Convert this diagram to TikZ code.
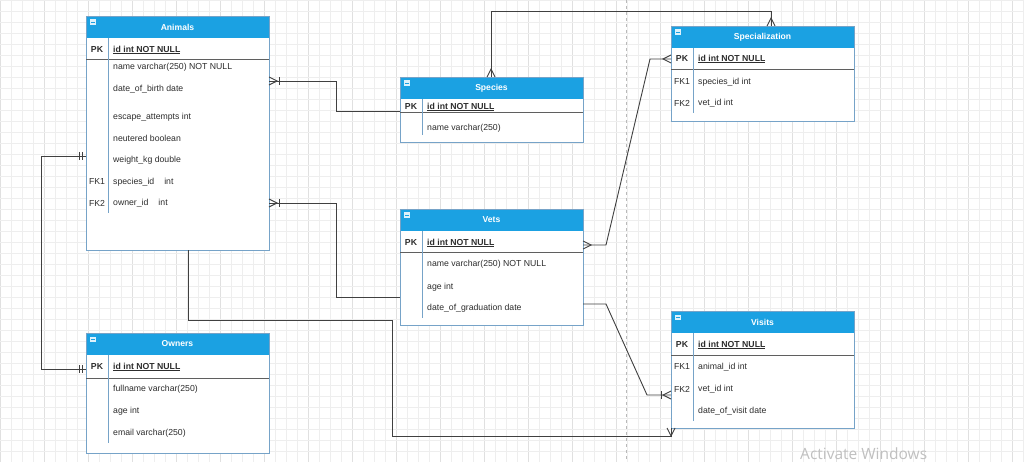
\documentclass[tikz,border=0pt]{standalone}
\usepackage{fontspec}
\setmainfont{Liberation Sans}
\newfontfamily\winfont{Open Sans}
\usetikzlibrary{calc}

\definecolor{hdrblue}{RGB}{27,161,226}
\definecolor{boxedge}{RGB}{118,163,200}
\definecolor{wire}{RGB}{64,64,64}
\definecolor{txt}{RGB}{45,45,45}
\definecolor{gridlo}{RGB}{238,238,238}
\definecolor{gridhi}{RGB}{224,224,224}
\definecolor{pkrule}{RGB}{95,95,95}
\definecolor{watermark}{RGB}{192,192,192}

\tikzset{
  tablebox/.style={draw=boxedge, line width=0.9pt, inner sep=0pt, outer sep=0pt, anchor=north west},
  ttl/.style={text=white, font=\fontsize{8.6}{10}\selectfont\bfseries, inner sep=0pt},
  fld/.style={text=txt, font=\fontsize{8.7}{10}\selectfont, anchor=west, inner sep=0pt},
  keyfld/.style={fld, font=\fontsize{8.7}{10}\selectfont\bfseries},
  keytag/.style={text=txt, font=\fontsize{8.7}{10}\selectfont, inner sep=0pt},
  pktag/.style={keytag, font=\fontsize{8.7}{10}\selectfont\bfseries},
  wireline/.style={draw=wire, line width=0.9pt},
  endsym/.style={draw=wire, line width=0.9pt},
}

% entity table: name, left, top, height, title, offset of the key rule, bottom of key column line
\newcommand\ertable[7]{%
  \fill[white] (#2,#3) rectangle ++(183,#4);
  \fill[hdrblue] (#2,#3) rectangle ++(183,22);
  \node[tablebox, minimum width=183pt, minimum height=#4pt] (#1) at (#2,#3) {};
  \node[ttl] (#1-title) at ($(#1.north)+(0,11)$) {#5};
  \fill[white!85!hdrblue] ($(#1.north west)+(4,3.5)$) rectangle ++(5.5,5.5);
  \draw[hdrblue, line width=0.8pt] ($(#1.north west)+(5,6.25)$) -- ++(3.5,0);
  \draw[pkrule, line width=1pt] ($(#1.north west)+(0,#6)$) -- ++(183,0);
  \draw[boxedge, line width=0.8pt] ($(#1.north west)+(22,22)$) -- (#2+22,#7);
}

% crow's foot at point #1, pointing outward along (#2,#3)
\newcommand\crowfoot[3]{%
  \draw[endsym] ($#1+({0-(#3)*4},{(#2)*4})$) -- ($#1+({(#2)*8},{(#3)*8})$) -- ($#1+({(#3)*4},{0-(#2)*4})$);
}
% bar across the line at point #1, direction (#2,#3), distance #4
\newcommand\crowbar[4]{%
  \draw[endsym] ($#1+({(#2)*(#4)-(#3)*4},{(#3)*(#4)+(#2)*4})$) -- ($#1+({(#2)*(#4)+(#3)*4},{(#3)*(#4)-(#2)*4})$);
}

\begin{document}
\begin{tikzpicture}[x=1pt,y=-1pt]
\useasboundingbox (0,0) rectangle (1024,462);
\fill[white] (0,0) rectangle (1024,462);

% background grid
\foreach \i in {0,...,93} {
  \pgfmathsetmacro\gx{\i*11}
  \ifnum\numexpr\i-4*(\i/4)\relax=0
    \draw[gridhi, line width=0.5pt] (\gx,0) -- (\gx,462);
  \else
    \draw[gridlo, line width=0.5pt] (\gx,0) -- (\gx,462);
  \fi
}
\foreach \j in {0,...,42} {
  \pgfmathsetmacro\gy{\j*11}
  \draw[gridlo, line width=0.5pt] (0,\gy) -- (1024,\gy);
}
% page break
\draw[gray!55, line width=0.6pt, dash pattern=on 3pt off 3pt] (626,0) -- (626,462);

% tables
\ertable{animals}{86}{16}{234}{Animals}{44}{213}
\ertable{species}{400}{77}{65}{Species}{36}{135}
\ertable{vets}{400}{209}{116}{Vets}{43}{318}
\ertable{specialization}{671}{26}{95}{Specialization}{44}{113}
\ertable{visits}{671}{311}{117}{Visits}{44}{421}
\ertable{owners}{86}{333}{120}{Owners}{45}{443}

% Animals fields
\node[pktag] (an-pk) at (97,50) {PK};
\node[keyfld] (an-id) at (113,50) {\underline{id int NOT NULL}};
\node[fld] (an-name) at (113,67) {name varchar(250) NOT NULL};
\node[fld] (an-dob) at (113,89) {date\_of\_birth date};
\node[fld] (an-esc) at (113,117) {escape\_attempts int};
\node[fld] (an-neu) at (113,138) {neutered boolean};
\node[fld] (an-wt) at (113,160) {weight\_kg double};
\node[keytag] (an-fk1) at (97,182) {FK1};
\node[fld] (an-sp) at (113,182) {species\_id\hspace{10pt}int};
\node[keytag] (an-fk2) at (97,203) {FK2};
\node[fld] (an-ow) at (113,203) {owner\_id\hspace{10pt}int};

% Species fields
\node[pktag] (sp-pk) at (411,107) {PK};
\node[keyfld] (sp-id) at (427,107) {\underline{id int NOT NULL}};
\node[fld] (sp-name) at (427,128) {name varchar(250)};

% Vets fields
\node[pktag] (ve-pk) at (411,243) {PK};
\node[keyfld] (ve-id) at (427,243) {\underline{id int NOT NULL}};
\node[fld] (ve-name) at (427,264) {name varchar(250) NOT NULL};
\node[fld] (ve-age) at (427,287) {age int};
\node[fld] (ve-grad) at (427,308) {date\_of\_graduation date};

% Specialization fields
\node[pktag] (sz-pk) at (682,59) {PK};
\node[keyfld] (sz-id) at (698,59) {\underline{id int NOT NULL}};
\node[keytag] (sz-fk1) at (682,82) {FK1};
\node[fld] (sz-sp) at (698,82) {species\_id int};
\node[keytag] (sz-fk2) at (682,103) {FK2};
\node[fld] (sz-ve) at (698,103) {vet\_id int};

% Visits fields
\node[pktag] (vi-pk) at (682,345) {PK};
\node[keyfld] (vi-id) at (698,345) {\underline{id int NOT NULL}};
\node[keytag] (vi-fk1) at (682,367) {FK1};
\node[fld] (vi-an) at (698,367) {animal\_id int};
\node[keytag] (vi-fk2) at (682,389) {FK2};
\node[fld] (vi-ve) at (698,389) {vet\_id int};
\node[fld] (vi-date) at (698,411) {date\_of\_visit date};

% Owners fields
\node[pktag] (ow-pk) at (97,367) {PK};
\node[keyfld] (ow-id) at (113,367) {\underline{id int NOT NULL}};
\node[fld] (ow-name) at (113,389) {fullname varchar(250)};
\node[fld] (ow-age) at (113,411) {age int};
\node[fld] (ow-mail) at (113,433) {email varchar(250)};

% connector end points on the table edges
\coordinate (a1) at ($(animals.north east)+(0,65)$);
\coordinate (a2) at ($(animals.north east)+(0,187)$);
\coordinate (a3) at ($(animals.north west)+(0,140)$);
\coordinate (a4) at ($(animals.south west)+(102,0)$);
\coordinate (s1) at ($(species.north west)+(0,34)$);
\coordinate (s2) at ($(species.north west)+(91,0)$);
\coordinate (v1) at ($(vets.north west)+(0,88)$);
\coordinate (v2) at ($(vets.north east)+(0,36)$);
\coordinate (v3) at ($(vets.north east)+(0,95)$);
\coordinate (z1) at ($(specialization.north west)+(0,33)$);
\coordinate (z2) at ($(specialization.north west)+(100,0)$);
\coordinate (o1) at ($(owners.north west)+(0,36)$);
\coordinate (t1) at ($(visits.north west)+(0,84)$);
\coordinate (t2) at (visits.south west);

% connectors
\draw[wireline] (a1) -- ++(67,0) |- (s1);
\draw[wireline] (a2) -- ++(67,0) |- (v1);
\draw[wireline] (a3) -- ++(-45,0) |- (o1);
\draw[wireline] (a4) -- ++(0,70) -| (392,436) -| (t2);
\draw[wireline] (v2) -- ++(23,0) -- ($(z1)+(-21,0)$) -- (z1);
\draw[wireline] (s2) -- ++(0,-66) -| (z2);
\draw[wireline] (v3) -- ++(23,0) -- ($(t1)+(-24,0)$) -- (t1);

% relationship end symbols
\crowfoot{(a1)}{1}{0} \crowbar{(a1)}{1}{0}{10}
\crowfoot{(a2)}{1}{0} \crowbar{(a2)}{1}{0}{10}
\crowbar{(a3)}{-1}{0}{4} \crowbar{(a3)}{-1}{0}{7}
\crowbar{(o1)}{-1}{0}{4} \crowbar{(o1)}{-1}{0}{7}
\crowfoot{(v2)}{1}{0}
\crowfoot{(z1)}{-1}{0}
\crowfoot{(s2)}{0}{-1}
\crowfoot{(z2)}{0}{-1}
\crowfoot{(t1)}{-1}{0} \crowbar{(t1)}{-1}{0}{10}
\crowfoot{(t2)}{0}{1}

% system watermark
\node[anchor=base west, inner sep=0pt, text=watermark, font=\winfont\fontsize{15.5}{18}\selectfont] (wm) at (800,459) {Activate Windows};
\end{tikzpicture}
\end{document}
